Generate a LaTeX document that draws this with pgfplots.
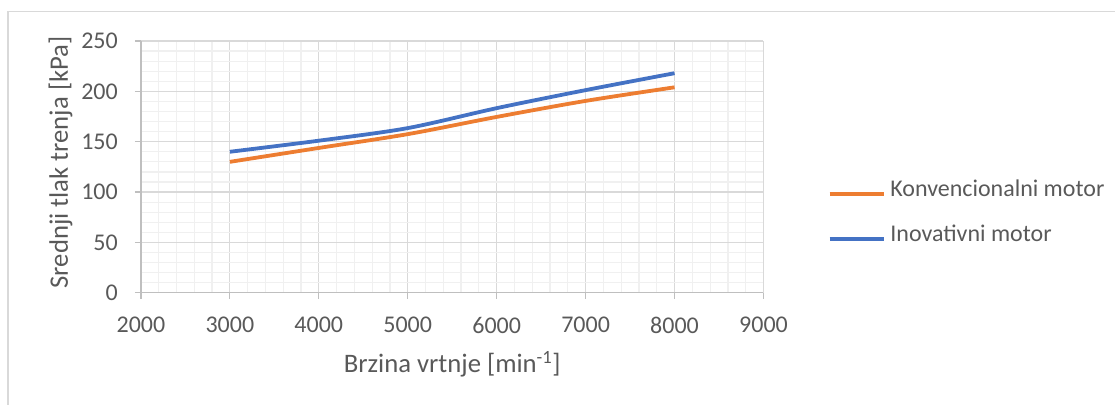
\documentclass[border=0pt]{standalone}
\usepackage{fontspec}
\setmainfont{Carlito}
\usepackage{pgfplots}
\pgfplotsset{compat=1.18}
\definecolor{txt}{HTML}{595959}
\definecolor{majgrid}{HTML}{D9D9D9}
\definecolor{mingrid}{HTML}{F0F0F0}
\definecolor{axcol}{HTML}{BFBFBF}
\definecolor{xlorange}{HTML}{ED7D31}
\definecolor{xlblue}{HTML}{4472C4}
\begin{document}
\begin{tikzpicture}[x=1pt,y=1pt]
\path (0,0) rectangle (1116,405);
\draw[majgrid, line width=1.5pt] (8,0) -- (8,393.5) -- (1116,393.5);
\begin{axis}[
  at={(141pt,112pt)}, anchor=south west,
  scale only axis, width=623pt, height=252pt,
  xmin=2000, xmax=9000, ymin=0, ymax=250,
  xtick={2000,3000,...,9000}, ytick={0,50,...,250},
  minor x tick num=4, minor y tick num=4,
  grid=both,
  major grid style={majgrid, line width=1.2pt},
  minor grid style={mingrid, line width=1.2pt},
  axis line style={axcol, line width=1.2pt},
  axis x line*=bottom, axis y line*=left,
  tick style={axcol, line width=1.2pt},
  major tick length=6pt, minor tick length=0pt,
  tick align=outside,
  xtick pos=bottom, ytick pos=left,
  /pgf/number format/assume math mode=true,
  /pgf/number format/1000 sep={},
  ticklabel style={font=\fontsize{24}{28}\selectfont, text=txt, inner sep=0pt},
  xticklabel style={yshift=-18pt},
  yticklabel style={xshift=-17pt},
  xlabel={Brzina vrtnje [min\textsuperscript{-1}]},
  ylabel={Srednji tlak trenja [kPa]},
  every axis x label/.style={at={(axis description cs:0.5,-0.3175)}, anchor=base,
    font=\fontsize{26.7}{30}\selectfont, text=txt, inner sep=0pt},
  every axis y label/.style={at={(axis description cs:-0.1172,0.518)}, anchor=base, rotate=90,
    font=\fontsize{26.7}{30}\selectfont, text=txt, inner sep=0pt},
  legend style={at={(1.1027,0.315)}, anchor=west, draw=none, fill=none,
    font=\fontsize{24}{28}\selectfont, text=txt, row sep=23pt,
    inner sep=0pt, nodes={inner sep=0pt, text height=17pt, text depth=5pt},
    /tikz/column 1/.style={column sep=5pt}},
  legend cell align=left,
  legend image code/.code={\draw[#1] (0pt,-3pt) -- (54pt,-3pt);},
]
\addplot[xlorange, line width=3.8pt, smooth] coordinates {
(3000,130) (4000,143.8) (5000,157.5) (6000,174.6) (7000,190.5) (8000,204)};
\addlegendentry{Konvencionalni motor}
\addplot[xlblue, line width=3.8pt, smooth] coordinates {
(3000,140) (4000,151) (5000,163.5) (6000,183.3) (7000,201.2) (8000,218)};
\addlegendentry{Inovativni motor}
\end{axis}
\end{tikzpicture}
\end{document}
